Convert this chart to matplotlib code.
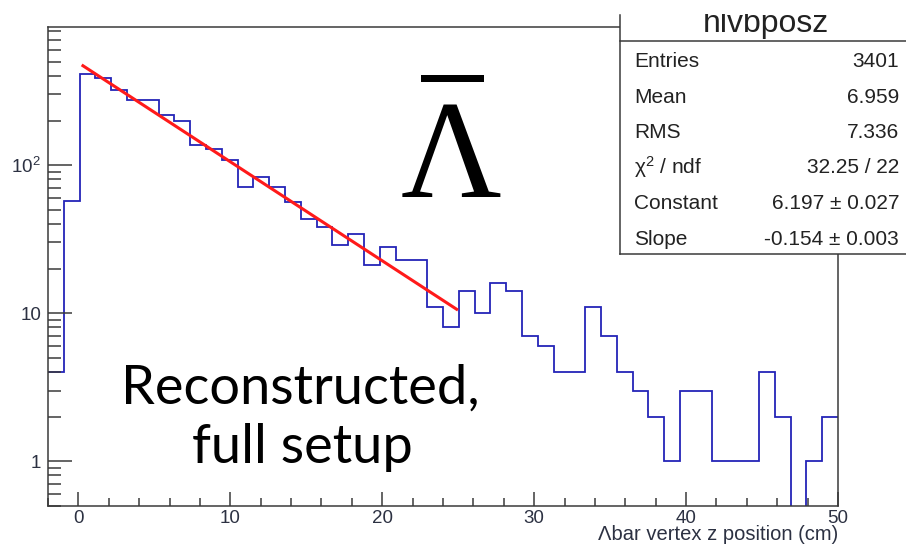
import numpy as np
import matplotlib
matplotlib.use("Agg")
import matplotlib.pyplot as plt
from matplotlib.patches import Rectangle
from matplotlib.lines import Line2D
from matplotlib.ticker import FixedLocator, MultipleLocator, NullFormatter, FixedFormatter

# ---------------- data ----------------
x_min, x_max, n_bins = -2.0, 50.0, 50
counts = [4, 57, 413, 388, 324, 276, 276, 219, 199, 136,
          129, 108, 71, 83, 71, 56, 43, 38, 29, 34,
          21, 28, 23, 23, 11, 8, 14, 10, 16, 14,
          7, 6, 4, 4, 11, 7, 4, 3, 2, 1,
          3, 3, 1, 1, 1, 4, 2, 0, 1, 2]
fit_constant = 6.197
fit_slope = -0.154
fit_range = [0.3, 24.9]

stat_labels = ["Entries", "Mean", "RMS", r"$\mathregular{\chi^{2}}$ / ndf", "Constant", "Slope"]
stat_values = ["3401", "6.959", "7.336", "32.25 / 22", "6.197 \u00b1 0.027", "-0.154 \u00b1 0.003"]
hist_name = "hlvbposz"

y_major = [1, 10, 100]
y_major_labels = ["1", "10", r"$\mathregular{10^{2}}$"]
x_label = "\u039bbar vertex z position (cm)"

# ---------------- figure ----------------
W, H = 906, 548
fig = plt.figure(figsize=(W / 100, H / 100), dpi=100)
fig.patch.set_facecolor("white")

L, R, T, B = 48, 838, 26.7, 505.7
ax = fig.add_axes([L / W, (H - B) / H, (R - L) / W, (B - T) / H])
edges = np.linspace(x_min, x_max, n_bins + 1)
ax.set_yscale("log", nonpositive="clip")
ax.stairs(counts, edges, color="#2424b8", linewidth=1.3, baseline=None)
fx = np.array(fit_range)
ax.plot(fx, np.exp(fit_constant + fit_slope * fx), color="#ff1a1a", linewidth=2.2)

ax.set_xlim(x_min, x_max)
ax.set_ylim(0.5, 861)

tick_col = "#2c3142"
axis_col = "#3a3a3a"
for s in ax.spines.values():
    s.set_color(axis_col)
    s.set_linewidth(1.1)

ax.xaxis.set_major_locator(MultipleLocator(10))
ax.xaxis.set_minor_locator(MultipleLocator(2))
ax.yaxis.set_major_locator(FixedLocator(y_major))
ax.yaxis.set_major_formatter(FixedFormatter(y_major_labels))
minors = [m * d for d in [0.1, 1, 10, 100] for m in range(2, 10)]
ax.yaxis.set_minor_locator(FixedLocator(minors))
ax.yaxis.set_minor_formatter(NullFormatter())

ax.tick_params(axis="x", which="major", direction="in", length=10, width=1.1, color=axis_col,
               labelsize=13.5, labelcolor=tick_col, pad=3)
ax.tick_params(axis="x", which="minor", direction="in", length=5.8, width=1.1, color=axis_col)
ax.tick_params(axis="y", which="major", direction="in", length=17.3, width=1.1, color=axis_col,
               labelsize=13.5, labelcolor=tick_col, pad=5)
ax.tick_params(axis="y", which="minor", direction="in", length=9, width=1.1, color=axis_col)
for lab in ax.get_xticklabels() + ax.get_yticklabels():
    lab.set_fontfamily("Liberation Sans")

ax.set_xlabel(x_label, fontsize=14.5, color=tick_col, family="Liberation Sans",
              loc="right", labelpad=-1)

# ---------------- overlay (pixel coordinates) ----------------
ov = fig.add_axes([0, 0, 1, 1], zorder=5)
ov.set_xlim(0, W)
ov.set_ylim(H, 0)
ov.axis("off")

# stats box
ov.add_patch(Rectangle((620, 0), 300, 254, facecolor="white", edgecolor="none", zorder=1))
ov.add_line(Line2D([620, 620], [15, 254], color=axis_col, lw=1.1, zorder=4))
ov.add_line(Line2D([620, 906], [254, 254], color=axis_col, lw=1.1, zorder=4))
ov.add_line(Line2D([620, 906], [40.5, 40.5], color=axis_col, lw=1.1, zorder=4))
ov.text(766, 31.7, hist_name, ha="center", va="baseline", fontsize=23,
        family="Liberation Sans", color="#222222", zorder=2)
# the top of the reference image is cut off just above the box
ov.add_patch(Rectangle((600, 0), 306, 13.5, facecolor="white", edgecolor="none", zorder=3))

row_y = [66.7, 102.7, 137.7, 173.3, 209.3, 245]
for lab, val, yy in zip(stat_labels, stat_values, row_y):
    ov.text(634, yy, lab, ha="left", va="baseline", fontsize=15,
            family="Liberation Sans", color="#222222", zorder=2)
    ov.text(899, yy, val, ha="right", va="baseline", fontsize=15,
            family="Liberation Sans", color="#222222", zorder=2)

# big anti-lambda
ov.text(451, 196.7, "\u039b", ha="center", va="baseline", fontsize=100,
        family="Liberation Serif", color="black")
ov.add_patch(Rectangle((420.7, 75), 63.3, 7.3, facecolor="black", edgecolor="none"))

# annotation text
ov.text(300, 403.3, "Reconstructed,", ha="center", va="baseline", fontsize=39,
        family="Lato", color="black")
ov.text(302, 463, "full setup", ha="center", va="baseline", fontsize=39,
        family="Lato", color="black")

fig.savefig("out.png", dpi=100, facecolor="white")
